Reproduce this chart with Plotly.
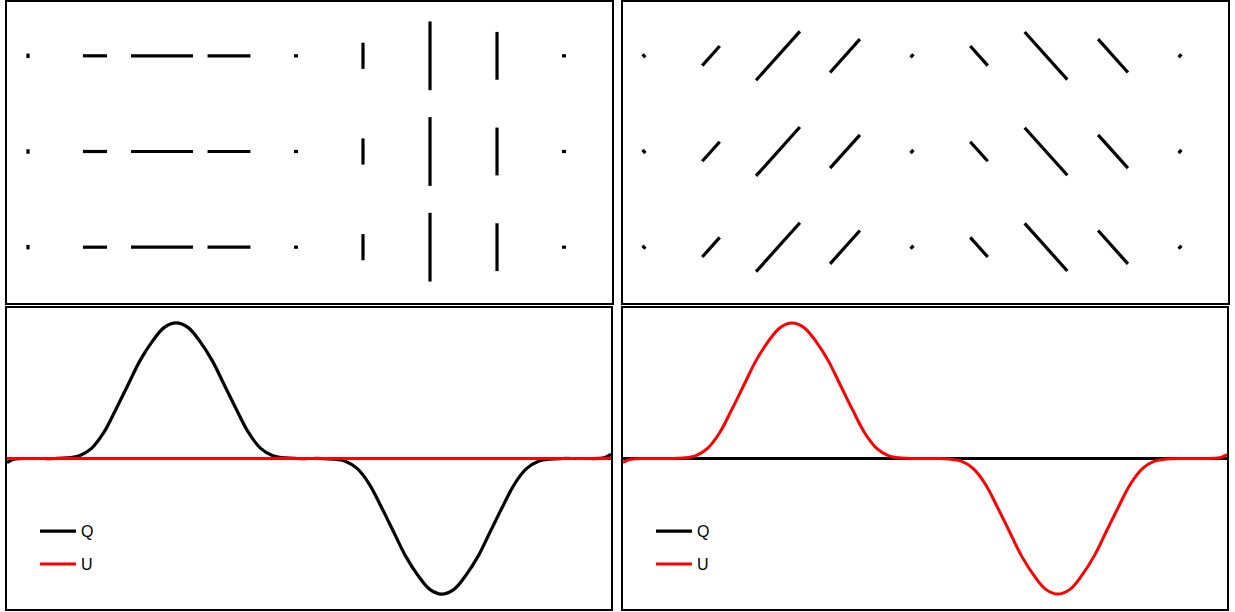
import math
import plotly.graph_objects as go

# ---- polarization maps: nine sampling columns, three identical rows ----
map_columns = [0, 1, 2, 3, 4, 5, 6, 7, 8]
map_rows = [0.0, 1.28, 2.56]

# Stokes parameters sampled at each column
# case A: pure Q, case B: pure U
map_q_a = [-0.06, 0.36, 0.925, 0.64, 0.06, -0.35, -0.92, -0.64, 0.06]
map_u_a = [0.0, 0.0, 0.0, 0.0, 0.0, 0.0, 0.0, 0.0, 0.0]
map_q_b = [0.0, 0.0, 0.0, 0.0, 0.0, 0.0, 0.0, 0.0, 0.0]
map_u_b = [-0.06, 0.37, 0.925, 0.63, 0.06, -0.37, -0.9, -0.63, 0.06]

# ---- Stokes profiles along the cut ----
profile_x = [0.00, 0.01, 0.02, 0.04, 0.06, 0.08, 0.10, 0.12, 0.14, 0.16,
             0.18, 0.20, 0.22, 0.24, 0.26, 0.28, 0.30, 0.32, 0.34, 0.36,
             0.38, 0.40, 0.42, 0.44, 0.46, 0.48, 0.50, 0.52, 0.54, 0.56,
             0.58, 0.60, 0.62, 0.64, 0.66, 0.68, 0.70, 0.72, 0.74, 0.76,
             0.78, 0.80, 0.82, 0.84, 0.86, 0.88, 0.90, 0.92, 0.94, 0.96,
             0.98, 0.99, 1.00]
bump_profile = [-0.03, -0.008, -0.001, 0.0, 0.0, 0.0, 0.004, 0.02, 0.075, 0.19,
                0.36, 0.54, 0.72, 0.86, 0.965, 1.0, 0.965, 0.86, 0.72, 0.54,
                0.36, 0.19, 0.075, 0.02, 0.004, 0.0, 0.0, 0.0, -0.004, -0.02,
                -0.075, -0.19, -0.36, -0.54, -0.72, -0.86, -0.965, -1.0, -0.965, -0.86,
                -0.72, -0.54, -0.36, -0.19, -0.075, -0.02, -0.004, 0.0, 0.0, 0.0,
                0.001, 0.008, 0.03]
flat_profile = [0.0] * len(profile_x)

q_case_a = bump_profile
u_case_a = flat_profile
q_case_b = flat_profile
u_case_b = bump_profile


def pseudo_vectors(q_vals, u_vals):
    """Headless polarization segments centred on each grid node."""
    xs, ys = [], []
    for y0 in map_rows:
        for x0, q, u in zip(map_columns, q_vals, u_vals):
            p = math.hypot(q, u)
            ang = 0.5 * math.atan2(u, q)
            dx = 0.5 * p * math.cos(ang)
            dy = 0.5 * p * math.sin(ang)
            xs += [x0 - dx, x0 + dx, None]
            ys += [y0 - dy, y0 + dy, None]
    return xs, ys


W, H = 1235, 612


def px_dom_x(a, b):
    return [a / W, b / W]


def px_dom_y(top, bottom):
    return [(H - bottom) / H, (H - top) / H]


fig = go.Figure()

# top panels: vector maps
for (q, u), xa, ya in [((map_q_a, map_u_a), "x", "y"),
                       ((map_q_b, map_u_b), "x2", "y2")]:
    vx, vy = pseudo_vectors(q, u)
    fig.add_trace(go.Scatter(x=vx, y=vy, mode="lines", xaxis=xa, yaxis=ya,
                             line=dict(color="black", width=3.2),
                             showlegend=False, hoverinfo="skip"))

# bottom panels: Q and U profiles
black, red = "#000000", "#ff0000"
for (q, u), xa, ya, leg in [((q_case_a, u_case_a), "x3", "y3", "legend"),
                            ((q_case_b, u_case_b), "x4", "y4", "legend2")]:
    fig.add_trace(go.Scatter(x=profile_x, y=q, mode="lines", name="Q",
                             xaxis=xa, yaxis=ya, legend=leg, legendgroup="Q" + leg,
                             line=dict(color=black, width=3.2, shape="spline")))
    fig.add_trace(go.Scatter(x=profile_x, y=u, mode="lines", name="U",
                             xaxis=xa, yaxis=ya, legend=leg, legendgroup="U" + leg,
                             line=dict(color=red, width=3.0, shape="spline")))

frame = dict(showline=True, mirror=True, linecolor="black", linewidth=2,
             showgrid=False, zeroline=False, showticklabels=False, ticks="",
             fixedrange=True)

map_xrange = [-0.313, 8.716]
map_yrange = [-0.747, 3.28]
prof_xrange = [0.0, 1.0]
prof_yrange = [-1.11, 1.11]

legend_style = dict(font=dict(family="Liberation Sans, Arial, sans-serif",
                              size=16, color="black"),
                    bgcolor="rgba(0,0,0,0)", borderwidth=0,
                    traceorder="grouped", tracegroupgap=9,
                    xanchor="left", yanchor="top", itemwidth=36)

fig.update_layout(
    width=W, height=H,
    margin=dict(l=0, r=0, t=0, b=0),
    paper_bgcolor="white", plot_bgcolor="white",
    xaxis=dict(domain=px_dom_x(7, 612), range=map_xrange, anchor="y", **frame),
    yaxis=dict(domain=px_dom_y(0, 302), range=map_yrange, anchor="x", **frame),
    xaxis2=dict(domain=px_dom_x(623, 1228), range=map_xrange, anchor="y2", **frame),
    yaxis2=dict(domain=px_dom_y(0, 302), range=map_yrange, anchor="x2", **frame),
    xaxis3=dict(domain=px_dom_x(7, 611), range=prof_xrange, anchor="y3", **frame),
    yaxis3=dict(domain=px_dom_y(307, 609), range=prof_yrange, anchor="x3", **frame),
    xaxis4=dict(domain=px_dom_x(623, 1227), range=prof_xrange, anchor="y4", **frame),
    yaxis4=dict(domain=px_dom_y(307, 609), range=prof_yrange, anchor="x4", **frame),
    legend=dict(x=35 / W, y=(H - 514) / H, **legend_style),
    legend2=dict(x=651 / W, y=(H - 514) / H, **legend_style),
    showlegend=True,
)

fig.write_html("out.html")
